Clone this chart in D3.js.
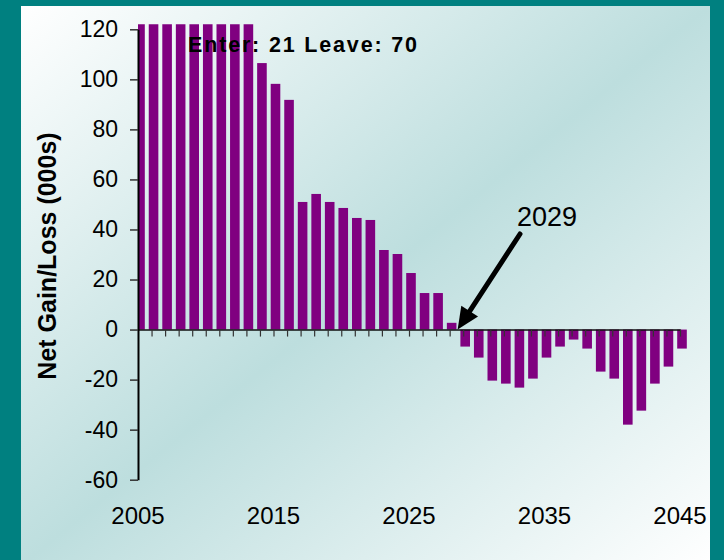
<!DOCTYPE html>
<html>
<head>
<meta charset="utf-8">
<script src="https://cdn.jsdelivr.net/npm/d3@7"></script>
<style>
  html, body { margin: 0; padding: 0; background: #008080; }
  svg { display: block; }
  text { font-family: "Liberation Sans", Arial, sans-serif; fill: #000; }
</style>
</head>
<body>
<svg id="chart" width="724" height="560"></svg>
<script>
// ---- Data ----
const years = [2005, 2006, 2007, 2008, 2009, 2010, 2011, 2012, 2013, 2014,
               2015, 2016, 2017, 2018, 2019, 2020, 2021, 2022, 2023, 2024,
               2025, 2026, 2027, 2028, 2029, 2030, 2031, 2032, 2033, 2034,
               2035, 2036, 2037, 2038, 2039, 2040, 2041, 2042, 2043, 2044, 2045];
// values in thousands (first nine bars run off the top of the scale)
const netGain = [125, 125, 125, 125, 125, 125, 125, 125, 125, 106.5,
                 98.2, 91.8, 51, 54.2, 51, 48.6, 44.6, 43.8, 31.8, 30.2,
                 22.6, 14.6, 14.6, 2.7, -6.8, -11.2, -20.4, -21.6, -23.2, -19.6,
                 -11.2, -6.8, -4, -7.6, -16.8, -19.6, -38, -32.4, -21.6, -14.8, -7.6];
const yTickValues = [-60, -40, -20, 0, 20, 40, 60, 80, 100, 120];
const xTickLabels = [2005, 2015, 2025, 2035, 2045];
const yTitle = "Net Gain/Loss (000s)";
const noteText = "Enter: 21 Leave: 70";
const arrowText = "2029";

// ---- Layout ----
const svg = d3.select("#chart");
const panel = {x: 21, y: 6, w: 689, h: 560};
const axisX = 138, plotRight = 680;

const defs = svg.append("defs");
const grad = defs.append("linearGradient").attr("id", "bg")
  .attr("x1", 0).attr("y1", 0).attr("x2", 1).attr("y2", 1);
grad.append("stop").attr("offset", "0%").attr("stop-color", "#ffffff");
grad.append("stop").attr("offset", "50%").attr("stop-color", "#bddede");
grad.append("stop").attr("offset", "100%").attr("stop-color", "#ffffff");

svg.append("rect").attr("width", 724).attr("height", 560).attr("fill", "#008080");
svg.append("rect").attr("x", panel.x).attr("y", panel.y)
  .attr("width", panel.w).attr("height", panel.h).attr("fill", "url(#bg)");

const x = d3.scalePoint().domain(years).range([axisX, plotRight]);
const y = d3.scaleLinear().domain([-60, 120]).range([479.7, 29.3]);

// clip for bars (plot area, bars over 120 are cut off)
defs.append("clipPath").attr("id", "plotclip").append("rect")
  .attr("x", axisX).attr("y", y(122))
  .attr("width", plotRight + 10 - axisX).attr("height", y(-60) - y(122));

const barW = 9.6, barShift = 2;
svg.append("g").attr("clip-path", "url(#plotclip)")
  .selectAll("rect").data(years).join("rect")
  .attr("x", (d) => x(d) + barShift - barW / 2)
  .attr("width", barW)
  .attr("y", (d, i) => y(Math.max(0, netGain[i])))
  .attr("height", (d, i) => Math.abs(y(netGain[i]) - y(0)))
  .attr("fill", "#800080");

// x axis (ticks at each year, labels every 10 years)
const xAxis = d3.axisBottom(x).tickSize(7).tickSizeOuter(0)
  .tickFormat((d) => xTickLabels.includes(d) ? d : "");
const gx = svg.append("g").attr("transform", `translate(0,${y(0)})`).call(xAxis);
gx.select(".domain").attr("stroke", "#111").attr("stroke-width", 1.5);
gx.selectAll(".tick line").attr("stroke", "#333").attr("stroke-width", 1.2);
gx.selectAll(".tick").filter((d) => d === years[0]).select("line").remove();
gx.selectAll(".tick text").remove();

// x labels at the bottom
svg.append("g").selectAll("text").data(xTickLabels).join("text")
  .attr("x", (d) => x(d)).attr("y", 524)
  .attr("text-anchor", "middle").attr("font-size", 24)
  .text((d) => d);

// y axis
const yAxis = d3.axisLeft(y).tickValues(yTickValues).tickSize(8).tickSizeOuter(0)
  .tickPadding(12).tickFormat((d) => String(d));
const gy = svg.append("g").attr("transform", `translate(${axisX},0)`).call(yAxis);
gy.attr("font-size", null).attr("font-family", null);
gy.select(".domain").attr("stroke", "#000").attr("stroke-width", 2);
gy.selectAll(".tick line").attr("stroke", "#333").attr("stroke-width", 1.5);
gy.selectAll(".tick text").style("font-size", "23px")
  .style("font-family", '"Liberation Sans", Arial, sans-serif').attr("fill", "#000");

// y title
svg.append("text")
  .attr("transform", "translate(56,256) rotate(-90)")
  .attr("text-anchor", "middle").attr("font-size", 25).attr("font-weight", "bold")
  .text(yTitle);

// note text
svg.append("text").attr("x", 188).attr("y", 52)
  .attr("font-size", 21.5).attr("font-weight", "bold")
  .attr("textLength", 229).attr("lengthAdjust", "spacing")
  .text(noteText);

// arrow annotation
svg.append("text").attr("x", 517).attr("y", 226)
  .attr("font-size", 27).text(arrowText);

const start = [520, 234];
const tip = [x(2028) + 2 + 6, y(0)];
const dx = tip[0] - start[0], dy = tip[1] - start[1];
const len = Math.hypot(dx, dy);
const ux = dx / len, uy = dy / len;
const headLen = 22, headHalf = 10;
const base = [tip[0] - ux * headLen, tip[1] - uy * headLen];
svg.append("line")
  .attr("x1", start[0]).attr("y1", start[1])
  .attr("x2", base[0] + ux * 2).attr("y2", base[1] + uy * 2)
  .attr("stroke", "#000").attr("stroke-width", 5).attr("stroke-linecap", "round");
svg.append("path")
  .attr("d", d3.line()([
    tip,
    [base[0] - uy * headHalf, base[1] + ux * headHalf],
    [base[0] + uy * headHalf, base[1] - ux * headHalf]
  ]) + "Z")
  .attr("fill", "#000");
</script>
</body>
</html>
